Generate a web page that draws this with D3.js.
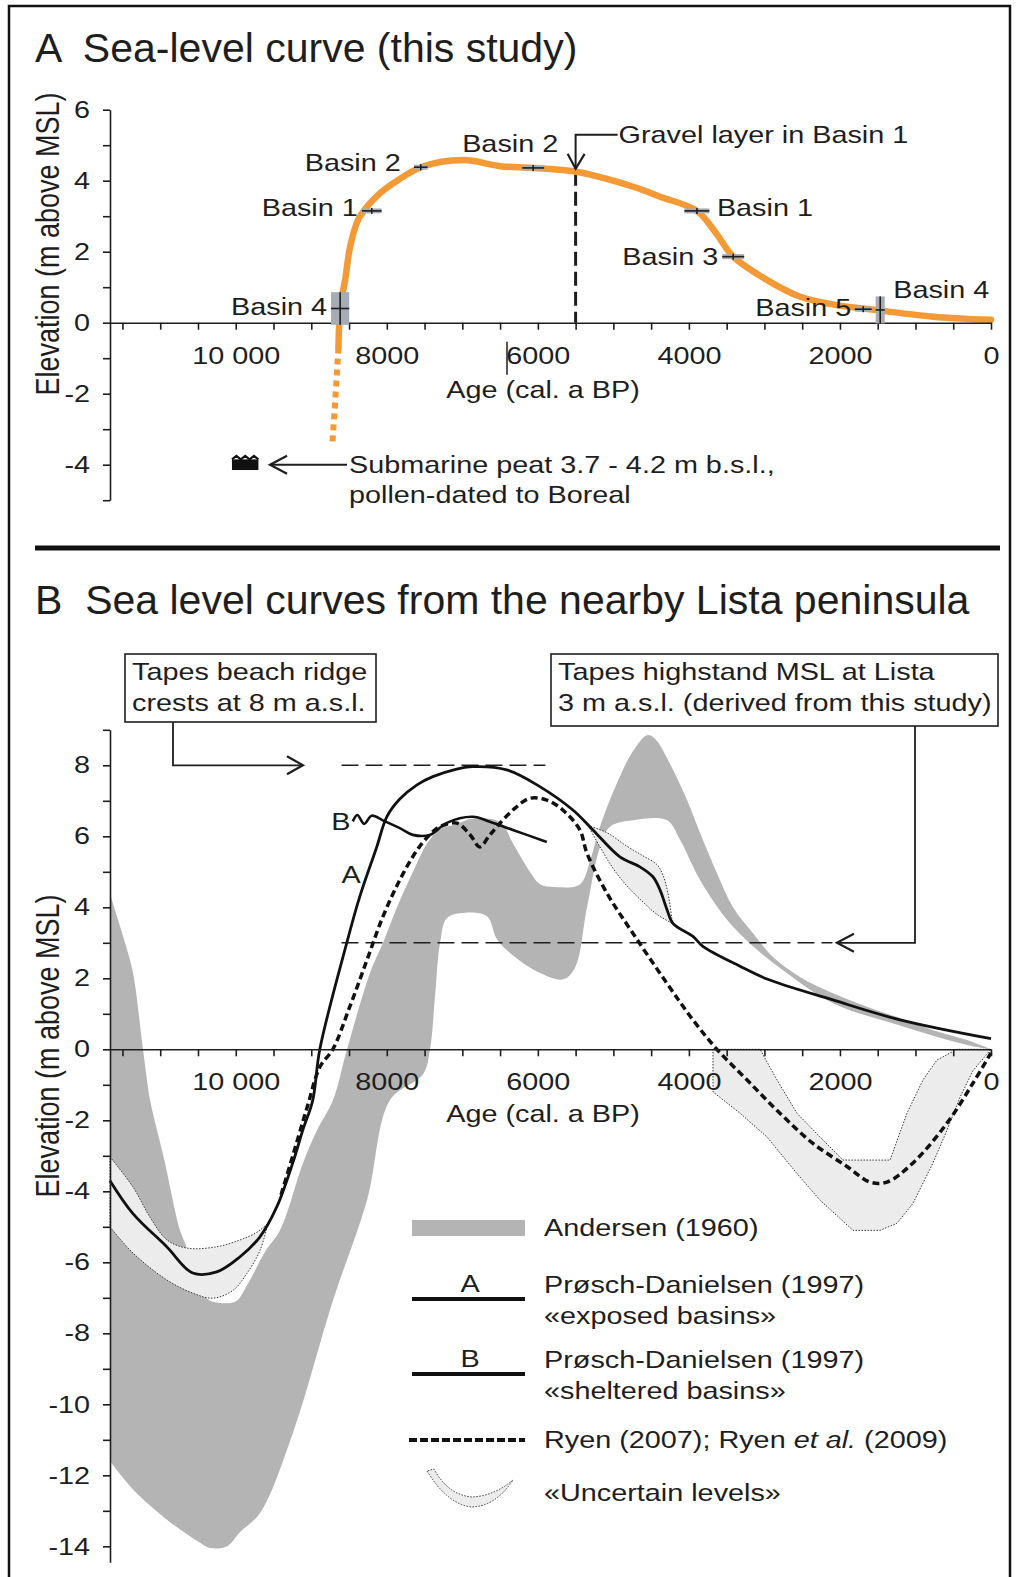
<!DOCTYPE html>
<html>
<head>
<meta charset="utf-8">
<script src="https://cdn.jsdelivr.net/npm/d3@7"></script>
<style>
  body { margin: 0; background: #fff; }
  svg { display: block; }
  text { font-family: "Liberation Sans", Arial, sans-serif; fill: #1e1e1e; }
</style>
</head>
<body>
<div id="chart"></div>
<script>
// ---- tick labels ----
const ageTicks = [10000, 8000, 6000, 4000, 2000, 0];
const elevTicksA = [-4, -2, 0, 2, 4, 6];
const elevTicksB = [-14, -12, -10, -8, -6, -4, -2, 0, 2, 4, 6, 8];

// ---- panel A: sea-level curve (age cal. a BP, elevation m) ----
const seaSolid = [[8640,-0.7],[8630,0],[8615,0.5],[8552,1.2],[8486,2.14],[8380,2.9],[8288,3.2],[8089,3.65],
  [7864,4.0],[7546,4.38],[6990,4.58],[6499,4.41],[6062,4.36],[5493,4.25],[4738,3.83],[4380,3.55],[3894,3.15],
  [3650,2.55],[3413,1.86],[2963,1.2],[2526,0.73],[2000,0.48],[1692,0.4],[1467,0.34],[765,0.17],[0,0.08]];
const seaDotted = [[8640,-0.7],[8665,-1.6],[8695,-2.6],[8722,-3.45]];

const basinNames = ["Basin 4", "Basin 1", "Basin 2", "Basin 2", "Basin 1", "Basin 3", "Basin 5", "Basin 4"];
const basinAge = [8618, 8199, 7550, 6062, 3894, 3413, 1692, 1467];
const basinElev = [0.4, 3.15, 4.38, 4.36, 3.15, 1.86, 0.38, 0.36];
const basinAgeErr = [120, 130, 90, 145, 165, 145, 112, 60];
const basinElevErr = [0.46, 0.07, 0.07, 0.07, 0.07, 0.07, 0.07, 0.38];

const gravelAge = 5500;
const gravelElev = 4.25;
const peatAge = [10050, 9700];
const peatElev = [-3.85, -4.15];
const peatArrowAge = [8527, 9546];
const peatText = ["Submarine peat 3.7 - 4.2 m b.s.l.,", "pollen-dated to Boreal"];

// ---- panel B: Lista curves ----
const andersenUpper = [[11665,4.4],[11625,4.1],[11466,3.0],[11360,2.15],[11228,0],[11135,-1.43],[11042,-2.28],
  [10936,-3.2],[10844,-4.15],[10738,-5.1],[10645,-5.6],[10473,-6.6],[10367,-7.05],[10182,-7.15],[9996,-7.1],
  [9837,-6.6],[9612,-5.7],[9414,-5.1],[9109,-3.2],[8924,-2.28],[8712,-1.43],[8527,0],[8222,2.15],[8050,3.0],
  [7865,4.0],[7653,5.0],[7467,5.8],[7295,6.2],[7070,6.35],[6858,6.5],[6501,6.4],[6329,5.8],[6104,5.0],
  [5971,4.65],[5773,4.57],[5481,4.6],[5402,4.75],[5309,5.3],[5177,6.27],[4952,7.5],[4740,8.4],[4555,8.85],
  [4449,8.75],[4210,7.87],[4025,7.02],[3853,6.1],[3628,4.96],[3416,4.0],[3151,3.27],[2886,2.6],[2529,2.04],
  [2092,1.58],[1642,1.2],[1205,0.88],[768,0.54],[318,0.26],[0,0]];
const andersenLower = [[11665,-11.6],[11360,-12.4],[10910,-13.25],[10473,-13.9],[10340,-14.05],[10115,-14.0],
  [9943,-13.6],[9678,-13.06],[9242,-10.8],[8712,-7.07],[8262,-4.25],[7957,-1.43],[7520,-0.7],[7428,0],
  [7361,1.5],[7295,3.0],[7203,3.7],[6964,3.85],[6673,3.75],[6541,3.1],[6302,2.6],[5971,2.15],[5667,1.97],
  [5508,2.3],[5349,4.0],[5177,5.7],[5044,6.27],[4740,6.45],[4290,6.45],[4118,5.9],[3853,4.77],[3495,3.65],
  [3151,2.9],[2754,2.23],[2092,1.3],[1205,0.67],[318,0.12],[0,0]];

const pdExposed = [[11665,-3.7],[11364,-4.62],[10914,-5.56],[10570,-6.3],[10252,-6.27],[9947,-5.85],[9682,-5.29],
  [9457,-4.44],[9245,-3.2],[9113,-2.28],[8980,-1.43],[8887,0],[8530,3.0],[8358,4.3],[8133,5.7],[8000,6.55],
  [7828,7.05],[7600,7.45],[7391,7.68],[7100,7.88],[6861,7.96],[6411,7.87],[5974,7.4],[5536,6.74],[5271,6.18],
  [4914,5.42],[4649,5.14],[4477,4.86],[4384,4.5],[4291,3.94],[4212,3.55],[3947,3.18],[3815,2.9],[3324,2.34],
  [2967,1.98],[2093,1.39],[1205,0.83],[0,0.3]];
const pdSheltered = [[8450,6.42],[8390,6.6],[8300,6.35],[8200,6.58],[8053,6.45],[7828,6.23],[7656,6.04],
  [7430,6.04],[7205,6.38],[6861,6.55],[6636,6.41],[6331,6.18],[5881,5.84]];
const ryen = [[9400,-4.1],[9245,-3.0],[9050,-1.6],[8887,-0.5],[8715,0],[8490,1.2],[8265,2.5],[8053,3.73],
  [7828,4.77],[7603,5.6],[7430,6.05],[7298,6.27],[7073,6.37],[6900,6.05],[6768,5.7],[6650,6.0],[6543,6.27],
  [6331,6.74],[6106,7.07],[5881,7.02],[5669,6.74],[5444,6.18],[5351,5.53],[5086,4.4],[4742,3.27],[4291,1.86],
  [3947,0.83],[3629,0],[3232,-0.86],[2795,-1.8],[2358,-2.65],[1907,-3.3],[1603,-3.74],[1377,-3.74],
  [1033,-3.2],[583,-2.08],[238,-0.95],[0,-0.1]];

const unc1Upper = [[11665,-3.03],[11360,-3.88],[11135,-4.73],[10910,-5.37],[10645,-5.6],[10248,-5.56],
  [9943,-5.37],[9718,-5.15],[9573,-4.9]];
const unc1Lower = [[11665,-5.0],[11360,-5.74],[10910,-6.5],[10566,-6.87],[10301,-7.01],[10036,-6.79],
  [9851,-6.31],[9678,-5.66],[9573,-4.9]];
const unc2Upper = [[5336,6.3],[5084,6.1],[4820,5.72],[4608,5.45],[4422,5.2],[4343,4.9],[4277,4.4],[4224,3.65]];
const unc2Lower = [[5336,6.3],[5177,5.7],[5005,5.1],[4820,4.6],[4608,4.15],[4422,3.8],[4224,3.55]];
const unc3Upper = [[3681,0],[3058,0],[2834,-0.86],[2569,-1.8],[2264,-2.47],[1960,-3.12],[1337,-3.12],
  [1112,-1.8],[900,-0.86],[715,-0.3],[450,0],[0,0]];
const unc3Lower = [[3681,0],[3681,-1.2],[3323,-1.8],[2966,-2.47],[2569,-3.5],[2264,-4.25],[1827,-5.1],
  [1470,-5.1],[1245,-4.9],[1033,-4.34],[768,-3.2],[583,-2.28],[410,-1.35],[238,-0.6],[0,0]];

const refElev = [8, 3];
const refFromAge = [8600, 8600];
const refToAge = [5900, 2100];
const refArrowAge = [9110, 2040];

const boxText = [["Tapes beach ridge", "crests at 8 m a.s.l."],
  ["Tapes highstand MSL at Lista", "3 m a.s.l. (derived from this study)"]];
const legendLabels = [["Andersen (1960)"], ["Prøsch-Danielsen (1997)", "«exposed basins»"],
  ["Prøsch-Danielsen (1997)", "«sheltered basins»"], ["Ryen (2007); Ryen ", "et al.", " (2009)"], ["«Uncertain levels»"]];

// ---- layout ----
const W = 1024, H = 1577, SX = 1.2;
const GRAY = "#b4b4b4", ORANGE = "#f39a36", INK = "#1e1e1e";

const svg = d3.select("#chart").append("svg").attr("width", W).attr("height", H);

const x = d3.scaleLinear().domain([11665, 0]).range([110, 991]);
const yA = d3.scaleLinear().domain([-5, 6]).range([500.2, 109.7]);
const yB = d3.scaleLinear().domain([-14.45, 9]).range([1562.3, 729.8]);

function txt(g, px, py, s, anchor, size) {
  return g.append("text")
    .attr("transform", `translate(${px},${py}) scale(${SX},1)`)
    .attr("font-size", size || 24)
    .attr("text-anchor", anchor || "start")
    .attr("dy", "0.35em")
    .text(s);
}

function lineGen(ys, curve) {
  return d3.line().x(d => x(d[0])).y(d => ys(d[1])).curve(curve || d3.curveCatmullRom.alpha(0.5));
}

function bandPath(upper, lower, ys, curve) {
  const ln = lineGen(ys, curve);
  return ln(upper) + "L" + ln(lower.slice().reverse()).slice(1) + "Z";
}

function ageAxis(g, y0) {
  const ax = d3.axisBottom(x)
    .tickValues(d3.range(11500, -1, -500))
    .tickSize(7).tickSizeOuter(0).tickPadding(17)
    .tickFormat(d => ageTicks.includes(d) ? (d >= 10000 ? "10 000" : String(d)) : "");
  g.attr("transform", `translate(0,${y0})`).call(ax);
  g.attr("font-size", 24);
  g.selectAll("path, line").attr("stroke", INK).attr("stroke-width", 1.6);
  g.selectAll("text").attr("transform", `scale(${SX},1)`);
}

function elevAxis(g, ys, lo, hi, labels) {
  const ax = d3.axisLeft(ys)
    .tickValues(d3.range(lo, hi + 1))
    .tickSize(7).tickSizeOuter(0).tickPadding(13)
    .tickFormat(d => labels.includes(d) ? String(d) : "");
  g.attr("transform", "translate(110,0)").call(ax);
  g.attr("font-size", 24);
  g.selectAll("path, line").attr("stroke", INK).attr("stroke-width", 1.6);
  g.selectAll("text").attr("x", -20 / SX).attr("transform", `scale(${SX},1)`);
}

function chevron(g, tx, ty, dir) {
  // dir: "down", "left", "right"
  let p;
  if (dir === "down") p = [[tx - 8, ty - 15], [tx, ty], [tx + 9, ty - 15]];
  else if (dir === "left") p = [[tx + 17, ty - 9], [tx, ty], [tx + 17, ty + 9]];
  else p = [[tx - 16, ty - 9], [tx, ty], [tx - 16, ty + 9]];
  g.append("path").attr("d", d3.line()(p)).attr("fill", "none").attr("stroke", INK).attr("stroke-width", 2.2);
}

// frame + titles
svg.append("rect").attr("x", 9).attr("y", 6).attr("width", 1001).attr("height", H + 10)
  .attr("fill", "none").attr("stroke", "#111").attr("stroke-width", 2.5);
svg.append("text").attr("x", 35).attr("y", 62).attr("font-size", 41).style("white-space", "pre")
  .text("A  Sea-level curve (this study)");
svg.append("line").attr("x1", 35).attr("x2", 1000).attr("y1", 548).attr("y2", 548)
  .attr("stroke", "#111").attr("stroke-width", 5);
svg.append("text").attr("x", 35).attr("y", 614).attr("font-size", 41).style("white-space", "pre")
  .text("B  Sea level curves from the nearby Lista peninsula");

// ================= PANEL A =================
const gA = svg.append("g");

// gravel layer marker
gA.append("line")
  .attr("x1", x(gravelAge)).attr("x2", x(gravelAge))
  .attr("y1", yA(gravelElev)).attr("y2", yA(0))
  .attr("stroke", INK).attr("stroke-width", 3).attr("stroke-dasharray", "14 6");

gA.append("path").attr("d", lineGen(yA)(seaSolid))
  .attr("fill", "none").attr("stroke", ORANGE).attr("stroke-width", 6.5).attr("stroke-linecap", "round");
gA.append("path").attr("d", lineGen(yA, d3.curveLinear)(seaDotted))
  .attr("fill", "none").attr("stroke", ORANGE).attr("stroke-width", 6).attr("stroke-dasharray", "6 5");

elevAxis(gA.append("g"), yA, -5, 6, elevTicksA);
ageAxis(gA.append("g"), yA(0));

// stray tick through the 6000 label
gA.append("line").attr("x1", 507).attr("x2", 507).attr("y1", yA(0) + 19).attr("y2", yA(0) + 52)
  .attr("stroke", INK).attr("stroke-width", 1.5);

txt(gA, 543, yA(0) + 67, "Age (cal. a BP)", "middle");
gA.append("text")
  .attr("transform", `translate(48,244) scale(${SX},1) rotate(-90)`)
  .attr("font-size", 27).attr("text-anchor", "middle").attr("dy", "0.35em")
  .text("Elevation (m above MSL)");

// basin error markers
const basinLabelPos = [[-13, -2, "end"], [-14, -3, "end"], [-20, -5, "end"], [-23, -24, "middle"],
  [20, -3, "start"], [-15, 0, "end"], [-12, -2, "end"], [13, -20, "start"]];
basinNames.forEach((name, i) => {
  const cx = x(basinAge[i]), cy = yA(basinElev[i]);
  const x0 = x(basinAge[i] + basinAgeErr[i]), x1 = x(basinAge[i] - basinAgeErr[i]);
  const y0 = yA(basinElev[i] + basinElevErr[i]), y1 = yA(basinElev[i] - basinElevErr[i]);
  gA.append("rect").attr("x", x0).attr("y", y0).attr("width", x1 - x0).attr("height", y1 - y0)
    .attr("fill", "#a7acb4");
  gA.append("line").attr("x1", x0).attr("x2", x1).attr("y1", cy).attr("y2", cy)
    .attr("stroke", INK).attr("stroke-width", 1.6);
  gA.append("line").attr("x1", cx).attr("x2", cx)
    .attr("y1", Math.min(y0, cy - 3)).attr("y2", Math.max(y1, cy + 3))
    .attr("stroke", INK).attr("stroke-width", 1.6);
  const p = basinLabelPos[i];
  txt(gA, cx + p[0], cy + p[1], name, p[2]);
});

// gravel arrow + label
const gx = x(gravelAge), gy = yA(gravelElev) - 3;
gA.append("path").attr("d", d3.line()([[gx, gy], [gx, gy - 34], [gx + 42, gy - 34]]))
  .attr("fill", "none").attr("stroke", INK).attr("stroke-width", 2);
chevron(gA, gx, gy, "down");
txt(gA, gx + 43, gy - 34, "Gravel layer in Basin 1");

// submarine peat
const px0 = x(peatAge[0]), px1 = x(peatAge[1]), py0 = yA(peatElev[0]), py1 = yA(peatElev[1]);
gA.append("rect").attr("x", px0).attr("y", py0).attr("width", px1 - px0).attr("height", py1 - py0).attr("fill", "#111");
gA.append("path")
  .attr("d", d3.line()(d3.range(0, 7).map(k => [px0 + k * (px1 - px0) / 6, py0 - (k % 2 ? 3.5 : 0)])))
  .attr("fill", "none").attr("stroke", "#111").attr("stroke-width", 2);
const pyMid = yA(-4);
gA.append("line").attr("x1", x(peatArrowAge[0])).attr("x2", x(peatArrowAge[1]))
  .attr("y1", pyMid).attr("y2", pyMid).attr("stroke", INK).attr("stroke-width", 2);
chevron(gA, x(peatArrowAge[1]), pyMid, "left");
txt(gA, x(peatArrowAge[0]) + 2, pyMid, peatText[0]);
txt(gA, x(peatArrowAge[0]) + 2, pyMid + 30, peatText[1]);

// ================= PANEL B =================
const gB = svg.append("g");

gB.append("path").attr("d", bandPath(andersenUpper, andersenLower, yB)).attr("fill", GRAY);

[[unc1Upper, unc1Lower, null], [unc2Upper, unc2Lower, null], [unc3Upper, unc3Lower, d3.curveLinear]]
  .forEach(u => {
    gB.append("path").attr("d", bandPath(u[0], u[1], yB, u[2]))
      .attr("fill", "#ececec").attr("stroke", "#3a3a3a").attr("stroke-width", 1)
      .attr("stroke-dasharray", "1.5 1.5");
  });

refElev.forEach((e, i) => {
  gB.append("line").attr("x1", x(refFromAge[i])).attr("x2", x(refToAge[i]))
    .attr("y1", yB(e)).attr("y2", yB(e))
    .attr("stroke", INK).attr("stroke-width", 1.6).attr("stroke-dasharray", "17 7");
});

gB.append("path").attr("d", lineGen(yB)(pdExposed))
  .attr("fill", "none").attr("stroke", "#111").attr("stroke-width", 2.8);
gB.append("path").attr("d", lineGen(yB)(pdSheltered))
  .attr("fill", "none").attr("stroke", "#111").attr("stroke-width", 2.6);
gB.append("path").attr("d", lineGen(yB)(ryen))
  .attr("fill", "none").attr("stroke", "#111").attr("stroke-width", 3.5).attr("stroke-dasharray", "7 4");

elevAxis(gB.append("g"), yB, -14, 9, elevTicksB);
ageAxis(gB.append("g"), yB(0));
txt(gB, 543, yB(0) + 64, "Age (cal. a BP)", "middle");
gB.append("text")
  .attr("transform", `translate(48,1046) scale(${SX},1) rotate(-90)`)
  .attr("font-size", 27).attr("text-anchor", "middle").attr("dy", "0.35em")
  .text("Elevation (m above MSL)");

txt(gB, x(pdSheltered[0][0]) - 12, yB(pdSheltered[0][1]), "B", "middle");
txt(gB, 351, 875, "A", "middle");

// annotation boxes
const boxes = [[125, 654, 251, 68], [551, 654, 447, 72]];
boxes.forEach((b, i) => {
  gB.append("rect").attr("x", b[0]).attr("y", b[1]).attr("width", b[2]).attr("height", b[3])
    .attr("fill", "#fff").attr("stroke", INK).attr("stroke-width", 1.6);
  txt(gB, b[0] + 7, b[1] + 18, boxText[i][0]);
  txt(gB, b[0] + 7, b[1] + 49, boxText[i][1]);
});
const t1x = x(refArrowAge[0]), t1y = yB(refElev[0]);
gB.append("path").attr("d", d3.line()([[173, 722], [173, t1y], [t1x, t1y]]))
  .attr("fill", "none").attr("stroke", INK).attr("stroke-width", 1.8);
chevron(gB, t1x, t1y, "right");
const t2x = x(refArrowAge[1]), t2y = yB(refElev[1]);
gB.append("path").attr("d", d3.line()([[915, 726], [915, t2y], [t2x, t2y]]))
  .attr("fill", "none").attr("stroke", INK).attr("stroke-width", 1.8);
chevron(gB, t2x, t2y, "left");

// legend
const lg = gB.append("g");
const keyX0 = 412, keyX1 = 525, textX = 544;
const rowY = [1228, 1285, 1360, 1440, 1493];
lg.append("rect").attr("x", keyX0).attr("y", rowY[0] - 8).attr("width", keyX1 - keyX0).attr("height", 16).attr("fill", GRAY);
[1, 2].forEach(r => {
  lg.append("line").attr("x1", keyX0).attr("x2", keyX1).attr("y1", rowY[r] + 14).attr("y2", rowY[r] + 14)
    .attr("stroke", "#111").attr("stroke-width", 4);
  txt(lg, 470, rowY[r] - 1, r === 1 ? "A" : "B", "middle");
});
lg.append("line").attr("x1", keyX0 - 3).attr("x2", keyX1).attr("y1", rowY[3]).attr("y2", rowY[3])
  .attr("stroke", "#111").attr("stroke-width", 4).attr("stroke-dasharray", "8 3");
lg.append("path")
  .attr("d", "M427,1471 Q448,1505 472,1507 Q496,1506 513,1480 Q494,1496 472,1497 Q448,1495 434,1469 Z")
  .attr("fill", "#ececec").attr("stroke", "#3a3a3a").attr("stroke-width", 1).attr("stroke-dasharray", "1.5 1.5");

txt(lg, textX, rowY[0], legendLabels[0][0]);
txt(lg, textX, rowY[1], legendLabels[1][0]);
txt(lg, textX, rowY[1] + 31, legendLabels[1][1]);
txt(lg, textX, rowY[2], legendLabels[2][0]);
txt(lg, textX, rowY[2] + 31, legendLabels[2][1]);
const ry = txt(lg, textX, rowY[3], "");
ry.append("tspan").text(legendLabels[3][0]);
ry.append("tspan").attr("font-style", "italic").text(legendLabels[3][1]);
ry.append("tspan").text(legendLabels[3][2]);
txt(lg, textX, rowY[4], legendLabels[4][0]);
</script>
</body>
</html>
